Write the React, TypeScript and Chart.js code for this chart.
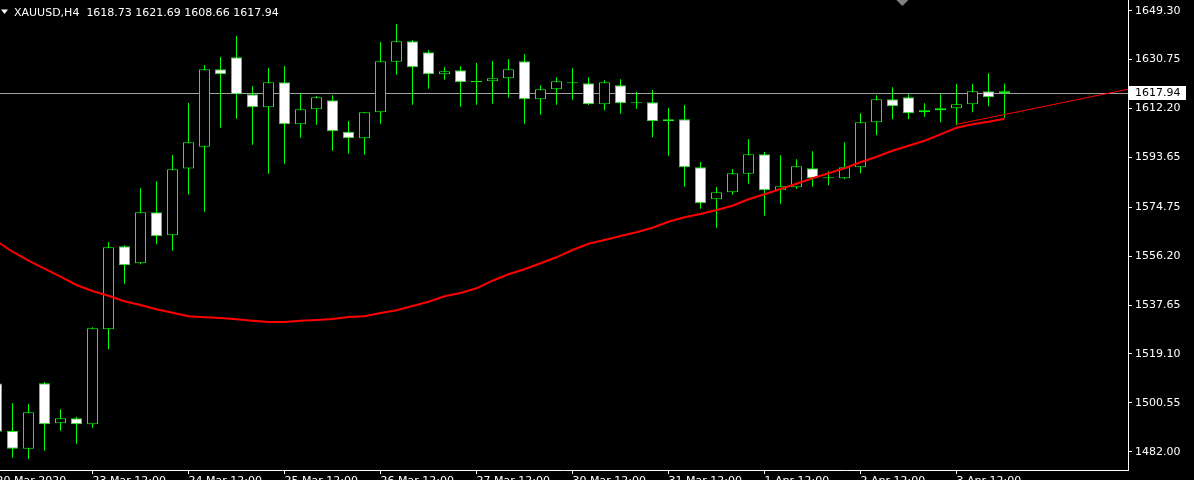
import { useEffect, useRef } from "react";
import { Chart, registerables } from "chart.js";

Chart.register(...registerables);

const SYMBOL = "XAUUSD";
const TIMEFRAME = "H4";
const FIRST_BAR = -1;

const OPEN = [
  1507.9, 1489.85, 1483.14, 1507.95, 1492.77, 1494.67, 1492.39, 1528.43, 1559.92, 1553.47,
  1572.82, 1564.09, 1589.44, 1597.71, 1627.07, 1631.62, 1617.58, 1612.65, 1622.14, 1606.2,
  1611.89, 1615.31, 1603.4, 1600.89, 1610.75, 1629.95, 1637.69, 1633.52, 1625.17, 1626.69,
  1622.2, 1622.52, 1623.65, 1630.1, 1615.69, 1619.48, 1621.8, 1621.76, 1613.79, 1621.0,
  1614.2, 1614.55, 1607.34, 1608.1, 1589.89, 1577.75, 1580.41, 1587.46, 1594.82, 1581.17,
  1582.3, 1589.51, 1585.72, 1585.72, 1589.89, 1606.96, 1615.69, 1616.44, 1610.75, 1611.52,
  1612.27, 1613.79, 1618.72, 1618.73,
];
const HIGH = [
  1510.5, 1500.36, 1500.1, 1508.44, 1498.08, 1495.28, 1529.19, 1561.44, 1560.3, 1581.93,
  1584.58, 1594.56, 1614.28, 1628.7, 1631.73, 1639.7, 1620.73, 1627.56, 1628.32, 1617.96,
  1616.94, 1617.21, 1607.45, 1610.87, 1637.43, 1644.25, 1638.18, 1634.39, 1627.94, 1628.21,
  1629.46, 1630.22, 1630.86, 1632.87, 1621.0, 1624.03, 1627.45, 1624.03, 1622.9, 1623.28,
  1618.46, 1619.21, 1612.39, 1613.53, 1591.9, 1582.42, 1589.25, 1600.51, 1595.7, 1594.44,
  1592.93, 1595.96, 1588.37, 1599.38, 1610.37, 1617.21, 1620.24, 1617.58, 1614.17, 1617.7,
  1621.49, 1621.49, 1625.55, 1621.69,
];
const LOW = [
  1486.0, 1479.72, 1479.23, 1482.38, 1489.97, 1485.03, 1491.1, 1520.85, 1545.73, 1553.09,
  1560.68, 1558.25, 1579.57, 1573.05, 1604.91, 1608.33, 1598.46, 1587.46, 1591.26, 1601.12,
  1606.05, 1596.19, 1595.05, 1594.67, 1606.43, 1625.02, 1613.64, 1619.71, 1623.13, 1612.88,
  1613.64, 1614.02, 1616.29, 1606.43, 1609.85, 1613.64, 1615.54, 1613.53, 1611.52, 1610.23,
  1612.12, 1601.27, 1594.29, 1582.53, 1574.18, 1566.98, 1579.5, 1583.67, 1571.53, 1576.08,
  1581.66, 1582.53, 1583.06, 1585.34, 1587.62, 1602.03, 1608.1, 1608.1, 1609.09, 1606.96,
  1605.83, 1610.75, 1613.03, 1608.66,
];
const CLOSE = [
  1489.6, 1483.14, 1496.95, 1492.39, 1494.67, 1492.39, 1528.81, 1559.54, 1552.71, 1572.82,
  1563.72, 1589.13, 1599.38, 1627.07, 1625.17, 1617.58, 1612.65, 1622.14, 1606.2, 1611.89,
  1616.44, 1603.55, 1600.89, 1610.75, 1630.1, 1637.69, 1627.83, 1625.17, 1626.31, 1622.14,
  1622.6, 1623.65, 1627.07, 1615.69, 1619.48, 1622.52, 1622.2, 1613.79, 1622.14, 1614.17,
  1614.6, 1607.34, 1608.1, 1589.89, 1576.23, 1580.41, 1587.62, 1594.82, 1581.17, 1582.68,
  1590.27, 1585.72, 1586.1, 1589.89, 1606.96, 1615.69, 1613.03, 1610.37, 1611.52, 1612.27,
  1613.79, 1618.72, 1616.44, 1617.94,
];
const MA = [
  1561.93, 1557.87, 1554.46, 1551.42, 1548.39, 1545.24, 1542.96, 1541.18, 1539.06, 1537.65,
  1536.02, 1534.73, 1533.37, 1532.99, 1532.72, 1532.23, 1531.7, 1531.2, 1531.2, 1531.7,
  1531.96, 1532.34, 1533.1, 1533.37, 1534.62, 1535.64, 1537.27, 1538.9, 1540.95, 1542.2,
  1543.99, 1546.87, 1549.3, 1551.2, 1553.47, 1555.75, 1558.52, 1560.91, 1562.31, 1563.83,
  1565.23, 1566.98, 1569.25, 1570.92, 1572.17, 1573.69, 1575.32, 1577.75, 1579.65, 1581.66,
  1583.67, 1585.72, 1587.61, 1589.51, 1591.79, 1593.91, 1596.19, 1598.08, 1599.98, 1602.41,
  1604.91, 1606.2, 1607.19, 1608.33,
];

const TREND_X = [59, 70];
const TREND_Y = [1606.2, 1619.85];

const X_TICK_BARS = [-1, 5, 11, 17, 23, 29, 35, 41, 47, 53, 59];
const X_TICK_LABELS = [
  "20 Mar 2020", "23 Mar 12:00", "24 Mar 12:00", "25 Mar 12:00", "26 Mar 12:00",
  "27 Mar 12:00", "30 Mar 12:00", "31 Mar 12:00", "1 Apr 12:00", "2 Apr 12:00", "3 Apr 12:00",
];
const Y_TICKS = [1482.0, 1500.55, 1519.1, 1537.65, 1556.2, 1574.75, 1593.65, 1612.2, 1630.75, 1649.3];

const X_MIN = -0.78125;
const X_MAX = 69.71875;
const Y_MIN = 1475.06;
const Y_MAX = 1653.36;

const FONT_FAMILY = '"DejaVu Sans"';
const FONT = `11px ${FONT_FAMILY}`;

export default function App() {
  const ref = useRef<HTMLCanvasElement>(null);

  useEffect(() => {
    const canvas = ref.current;
    if (!canvas) return;
    const idx = CLOSE.map((_, i) => i + FIRST_BAR);
    const bodies = idx.map((x, i) => ({ x, y: [OPEN[i], CLOSE[i]] }));
    const wicks = idx.map((x, i) => ({ x, y: [LOW[i], HIGH[i]] }));
    const ma = idx.map((x, i) => ({ x, y: MA[i] }));
    const trend = TREND_X.map((x, i) => ({ x, y: TREND_Y[i] }));
    const last = CLOSE.length - 1;

    const overlay = {
      id: "mt4overlay",
      beforeDatasetsDraw(chart: any) {
        const { ctx, chartArea } = chart;
        const y = Math.round(chart.scales.y.getPixelForValue(CLOSE[last])) + 0.5;
        ctx.save();
        ctx.strokeStyle = "#a0a0a0";
        ctx.lineWidth = 1;
        ctx.beginPath();
        ctx.moveTo(chartArea.left, y);
        ctx.lineTo(chartArea.right, y);
        ctx.stroke();
        ctx.restore();
      },
      afterDraw(chart: any) {
        const { ctx, chartArea } = chart;
        ctx.save();
        // current price label
        const y = Math.round(chart.scales.y.getPixelForValue(CLOSE[last]));
        ctx.fillStyle = "#ffffff";
        ctx.fillRect(chartArea.right + 1, y - 7, 57, 14);
        ctx.fillStyle = "#000000";
        ctx.font = FONT;
        ctx.textBaseline = "middle";
        ctx.textAlign = "left";
        ctx.fillText(CLOSE[last].toFixed(2), chartArea.right + 7, y + 0.5);
        // title
        ctx.fillStyle = "#ffffff";
        ctx.beginPath();
        ctx.moveTo(1, 9.5);
        ctx.lineTo(8, 9.5);
        ctx.lineTo(4.5, 14);
        ctx.closePath();
        ctx.fill();
        ctx.textBaseline = "alphabetic";
        ctx.fillText(
          `${SYMBOL},${TIMEFRAME}  ${OPEN[last].toFixed(2)} ${HIGH[last].toFixed(2)} ${LOW[last].toFixed(2)} ${CLOSE[last].toFixed(2)}`,
          14,
          16
        );
        // chart shift marker
        const sx = chartArea.left + chartArea.width * 0.8;
        ctx.fillStyle = "#808080";
        ctx.beginPath();
        ctx.moveTo(sx - 6, chartArea.top);
        ctx.lineTo(sx + 6, chartArea.top);
        ctx.lineTo(sx, chartArea.top + 6);
        ctx.closePath();
        ctx.fill();
        ctx.restore();
      },
    };

    const chart = new Chart(canvas, {
      type: "bar",
      data: {
        datasets: [
          {
            type: "line",
            data: ma,
            borderColor: "#ff0000",
            borderWidth: 2,
            pointRadius: 0,
            tension: 0,
            order: 0,
          } as any,
          {
            type: "line",
            data: trend,
            borderColor: "#ff0000",
            borderWidth: 1,
            pointRadius: 0,
            tension: 0,
            order: 0,
          } as any,
          {
            type: "bar",
            data: bodies,
            backgroundColor: idx.map((_, i) => (CLOSE[i] > OPEN[i] ? "#000000" : "#ffffff")),
            borderColor: "#00ff00",
            borderWidth: 1,
            borderSkipped: false,
            barThickness: 11,
            grouped: false,
            inflateAmount: 0,
            order: 1,
          } as any,
          {
            type: "bar",
            data: wicks,
            backgroundColor: "#00ff00",
            borderWidth: 0,
            barThickness: 1,
            grouped: false,
            inflateAmount: 0,
            order: 2,
          } as any,
        ],
      },
      options: {
        responsive: false,
        maintainAspectRatio: false,
        animation: false,
        devicePixelRatio: 1,
        events: [],
        layout: { padding: 0 },
        plugins: { legend: { display: false }, tooltip: { enabled: false }, title: { display: false } },
        scales: {
          x: {
            type: "linear",
            position: "bottom",
            min: X_MIN,
            max: X_MAX,
            offset: false,
            grid: {
              display: true,
              offset: false,
              drawOnChartArea: false,
              drawTicks: true,
              tickLength: 4,
              color: "#ffffff",
              lineWidth: 1,
            },
            border: { display: true, color: "#ffffff", width: 1 },
            ticks: {
              autoSkip: false,
              maxRotation: 0,
              minRotation: 0,
              align: "start",
              padding: 1,
              color: "#ffffff",
              font: { family: FONT_FAMILY, size: 11 },
              callback: (_v: any, i: number) => X_TICK_LABELS[i] ?? "",
            },
            afterBuildTicks: (s: any) => {
              s.ticks = X_TICK_BARS.map((v) => ({ value: v }));
            },
            afterFit: (s: any) => {
              s.height = 22;
              s.paddingLeft = 0;
              s.paddingRight = 0;
            },
          } as any,
          y: {
            type: "linear",
            position: "right",
            min: Y_MIN,
            max: Y_MAX,
            grid: {
              display: true,
              drawOnChartArea: false,
              drawTicks: true,
              tickLength: 4,
              color: "#ffffff",
              lineWidth: 1,
            },
            border: { display: true, color: "#ffffff", width: 1 },
            ticks: {
              padding: 3,
              color: "#ffffff",
              font: { family: FONT_FAMILY, size: 11 },
              callback: (v: any) => Number(v).toFixed(2),
            },
            afterBuildTicks: (s: any) => {
              s.ticks = Y_TICKS.map((v) => ({ value: v }));
            },
            afterFit: (s: any) => {
              s.width = 66;
              s.paddingTop = 0;
              s.paddingBottom = 0;
            },
          } as any,
        },
      },
      plugins: [overlay],
    });
    return () => chart.destroy();
  }, []);

  return (
    <div
      style={{
        position: "fixed",
        left: 0,
        top: 0,
        width: 1194,
        height: 480,
        overflow: "hidden",
        background: "#000000",
      }}
    >
      <canvas ref={ref} width={1194} height={492} style={{ display: "block" }} />
    </div>
  );
}
